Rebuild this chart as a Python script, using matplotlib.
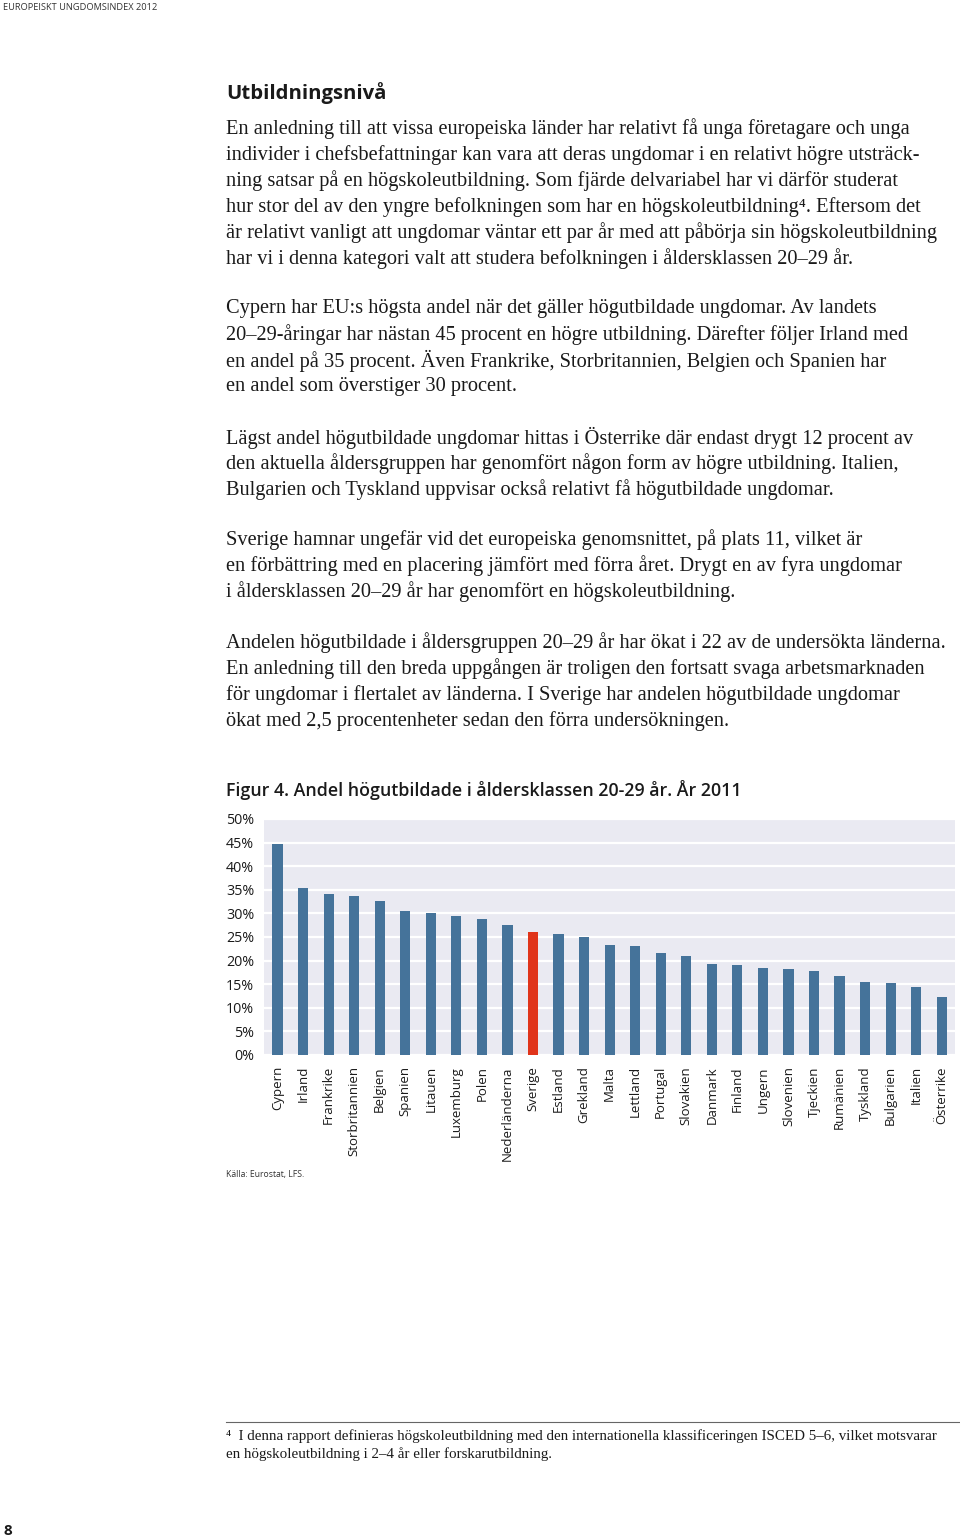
import matplotlib
matplotlib.use("Agg")
from matplotlib import pyplot as plt
from matplotlib.ticker import PercentFormatter

countries = ["Cypern", "Irland", "Frankrike", "Storbritannien", "Belgien", "Spanien",
             "Litauen", "Luxemburg", "Polen", "Nederländerna", "Sverige", "Estland",
             "Grekland", "Malta", "Lettland", "Portugal", "Slovakien", "Danmark",
             "Finland", "Ungern", "Slovenien", "Tjeckien", "Rumänien", "Tyskland",
             "Bulgarien", "Italien", "Österrike"]
share = [44.6, 35.3, 34.1, 33.6, 32.6, 30.5, 30.0, 29.4, 28.9, 27.5, 26.1, 25.7,
         24.9, 23.4, 23.0, 21.6, 21.0, 19.3, 19.0, 18.4, 18.2, 17.7, 16.7, 15.4,
         15.3, 14.4, 12.3]
highlight = "Sverige"
yticks = [0, 5, 10, 15, 20, 25, 30, 35, 40, 45, 50]

paragraphs = [
    ["En anledning till att vissa europeiska länder har relativt få unga företagare och unga",
     "individer i chefsbefattningar kan vara att deras ungdomar i en relativt högre utsträck-",
     "ning satsar på en högskoleutbildning. Som fjärde delvariabel har vi därför studerat",
     "hur stor del av den yngre befolkningen som har en högskoleutbildning⁴. Eftersom det",
     "är relativt vanligt att ungdomar väntar ett par år med att påbörja sin högskoleutbildning",
     "har vi i denna kategori valt att studera befolkningen i åldersklassen 20–29 år."],
    ["Cypern har EU:s högsta andel när det gäller högutbildade ungdomar. Av landets",
     "20–29-åringar har nästan 45 procent en högre utbildning. Därefter följer Irland med",
     "en andel på 35 procent. Även Frankrike, Storbritannien, Belgien och Spanien har",
     "en andel som överstiger 30 procent."],
    ["Lägst andel högutbildade ungdomar hittas i Österrike där endast drygt 12 procent av",
     "den aktuella åldersgruppen har genomfört någon form av högre utbildning. Italien,",
     "Bulgarien och Tyskland uppvisar också relativt få högutbildade ungdomar."],
    ["Sverige hamnar ungefär vid det europeiska genomsnittet, på plats 11, vilket är",
     "en förbättring med en placering jämfört med förra året. Drygt en av fyra ungdomar",
     "i åldersklassen 20–29 år har genomfört en högskoleutbildning."],
    ["Andelen högutbildade i åldersgruppen 20–29 år har ökat i 22 av de undersökta länderna.",
     "En anledning till den breda uppgången är troligen den fortsatt svaga arbetsmarknaden",
     "för ungdomar i flertalet av länderna. I Sverige har andelen högutbildade ungdomar",
     "ökat med 2,5 procentenheter sedan den förra undersökningen."],
]
footnote = ["⁴  I denna rapport definieras högskoleutbildning med den internationella klassificeringen ISCED 5–6, vilket motsvarar",
            "en högskoleutbildning i 2–4 år eller forskarutbildning."]

W, H = 960, 1539
serif = ["Liberation Serif", "DejaVu Serif"]
sans = ["Open Sans", "DejaVu Sans"]
text_color = "#1a1a1a"

fig = plt.figure(figsize=(W / 100, H / 100), dpi=100)
fig.patch.set_facecolor("white")

def put(x, y, s, **kw):
    # pixel coordinates from top-left
    fig.text(x / W, 1 - y / H, s, **kw)

put(3, 7, "EUROPEISKT UNGDOMSINDEX 2012", family=sans, fontsize=6.7, color="#333333", va="center")
put(226, 93, "Utbildningsnivå", family=sans, fontsize=14.6, fontweight="bold", color=text_color, va="center")

starts = [129, 309, 438, 540, 643]
for top, lines in zip(starts, paragraphs):
    for i, line in enumerate(lines):
        put(226, top + i * 25.9, line, family=serif, fontsize=14.7, color=text_color, va="center")

put(226, 790, "Figur 4. Andel högutbildade i åldersklassen 20-29 år. År 2011",
    family=sans, fontsize=12.8, fontweight="semibold", color=text_color, va="center")

# chart
ax = fig.add_axes([264 / W, 1 - 1055 / H, (955 - 264) / W, (1055 - 819) / H])
ax.set_facecolor("#eaeaf2")
colors = ["#e0341a" if c == highlight else "#45739a" for c in countries]
x = list(range(len(countries)))
ax.bar(x, share, width=0.4, color=colors, zorder=3)
ax.set_xlim(-0.53, len(countries) - 0.48)
ax.set_ylim(0, 50)
ax.set_yticks(yticks)
ax.yaxis.set_major_formatter(PercentFormatter(decimals=0))
ax.grid(axis="y", color="white", linewidth=1.6, zorder=0)
ax.set_axisbelow(True)
for s in ax.spines.values():
    s.set_visible(False)
ax.tick_params(length=0)
ax.tick_params(axis="y", pad=7, labelsize=10.3, labelcolor=text_color)
ax.set_xticks(x)
ax.set_xticklabels(countries, rotation=90, fontsize=9.5, color=text_color, va="top")
ax.tick_params(axis="x", pad=8)
for lab in ax.get_yticklabels() + ax.get_xticklabels():
    lab.set_family(sans)

put(226, 1174, "Källa: Eurostat, LFS.", family=sans, fontsize=6.2, color="#333333", va="center")

fig.add_artist(plt.Line2D([226 / W, 1.0], [1 - 1422 / H, 1 - 1422 / H], color="#666666", linewidth=0.8))
put(226, 1436, footnote[0], family=serif, fontsize=10.8, color=text_color, va="center")
put(226, 1454, footnote[1], family=serif, fontsize=10.8, color=text_color, va="center")

put(3, 1531, "8", family=sans, fontsize=11, fontweight="bold", color=text_color, va="center")

fig.savefig("out.png", dpi=100)
